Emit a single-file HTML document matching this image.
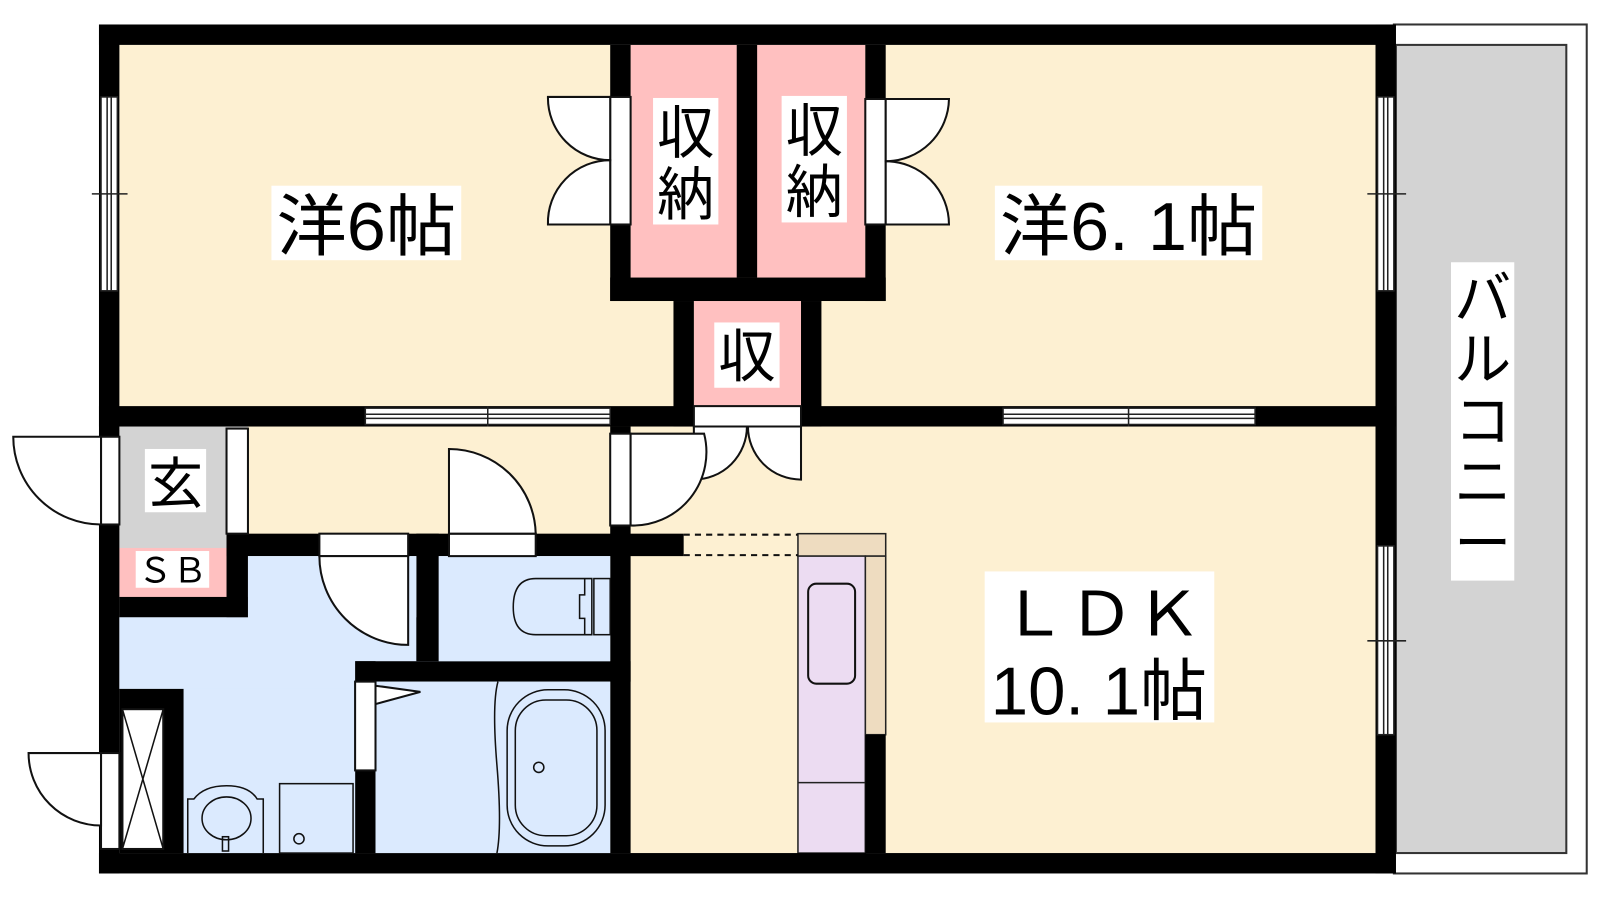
<!DOCTYPE html>
<html><head><meta charset="utf-8"><style>
html,body{margin:0;padding:0;background:#fff;}
svg{display:block;}
text{font-family:"Liberation Sans","Noto Sans CJK JP",sans-serif;}
</style></head><body>
<svg width="1600" height="900" viewBox="0 0 1600 900" xmlns="http://www.w3.org/2000/svg">
<g transform="scale(1.0204)">
<rect x="1366" y="24" width="189" height="832" fill="#fff" stroke="#333" stroke-width="2"/>
<rect x="1368" y="44" width="167" height="792" fill="#d3d3d3" stroke="#333" stroke-width="2"/>
<rect x="117" y="44" width="1231" height="792" fill="#fdf0d2"/>
<rect x="618" y="44" width="230" height="228" fill="#ffc0c0"/>
<rect x="680" y="295" width="105" height="103" fill="#ffc0c0"/>
<rect x="117" y="545" width="481" height="291" fill="#dbeafe"/>
<rect x="117" y="418" width="126" height="187" fill="#d3d3d3"/>
<rect x="117" y="537" width="105" height="48" fill="#ffc0c0"/>
<rect x="782" y="523" width="86" height="22" fill="#eedcc0" stroke="#222" stroke-width="1.5"/>
<rect x="848" y="545" width="20" height="175" fill="#eedcc0" stroke="#222" stroke-width="1.5"/>
<rect x="782" y="545" width="66" height="291" fill="#ecdcf2" stroke="#222" stroke-width="1.5"/>
<line x1="782" y1="767" x2="848" y2="767" stroke="#222" stroke-width="1.5"/>
<rect x="792" y="572" width="46" height="98" rx="8" fill="none" stroke="#111" stroke-width="2"/>
<line x1="670" y1="524" x2="782" y2="524" stroke="#111" stroke-width="2" stroke-dasharray="6,5"/>
<line x1="670" y1="544" x2="782" y2="544" stroke="#111" stroke-width="2" stroke-dasharray="6,5"/>
<g fill="#000">
<rect x="97" y="24" width="1271" height="20"/>
<rect x="97" y="836" width="1271" height="20"/>
<rect x="97" y="24" width="20" height="832"/>
<rect x="1348" y="24" width="20" height="832"/>
<rect x="598" y="44" width="20" height="251"/>
<rect x="722" y="44" width="20" height="228"/>
<rect x="848" y="44" width="20" height="251"/>
<rect x="598" y="272" width="270" height="23"/>
<rect x="660" y="295" width="20" height="123"/>
<rect x="785" y="295" width="20" height="123"/>
<rect x="97" y="398" width="583" height="20"/>
<rect x="785" y="398" width="583" height="20"/>
<rect x="222" y="523" width="21" height="82"/>
<rect x="117" y="585" width="126" height="20"/>
<rect x="222" y="523" width="448" height="22"/>
<rect x="408" y="523" width="22" height="125"/>
<rect x="348" y="648" width="270" height="20"/>
<rect x="348" y="648" width="20" height="188"/>
<rect x="598" y="418" width="20" height="418"/>
<rect x="117" y="675" width="63" height="161"/>
<rect x="848" y="720" width="20" height="116"/>
</g>
<rect x="243" y="545" width="165" height="60" fill="#dbeafe"/>
<rect x="117" y="605" width="231" height="70" fill="#dbeafe"/>
<rect x="180" y="675" width="168" height="161" fill="#dbeafe"/>
<rect x="430" y="545" width="168" height="103" fill="#dbeafe"/>
<rect x="368" y="668" width="230" height="168" fill="#dbeafe"/>
<g fill="#fff" stroke="#222" stroke-width="1.5">
<rect x="99" y="95" width="16" height="190"/>
<rect x="358" y="400" width="240" height="16"/>
<rect x="983" y="400" width="247" height="16"/>
<rect x="1350" y="95" width="16" height="190"/>
<rect x="1350" y="535" width="16" height="185"/>
</g>
<g stroke="#222" stroke-width="1.5">
<line x1="105" y1="95" x2="105" y2="285"/><line x1="109" y1="95" x2="109" y2="285"/><line x1="90" y1="190" x2="125" y2="190"/>
<line x1="1356" y1="95" x2="1356" y2="285"/><line x1="1360" y1="95" x2="1360" y2="285"/><line x1="1340" y1="190" x2="1378" y2="190"/>
<line x1="1356" y1="535" x2="1356" y2="720"/><line x1="1360" y1="535" x2="1360" y2="720"/><line x1="1340" y1="628" x2="1378" y2="628"/>
<line x1="358" y1="406" x2="598" y2="406"/><line x1="358" y1="410" x2="598" y2="410"/><line x1="478" y1="398" x2="478" y2="418"/>
<line x1="983" y1="406" x2="1230" y2="406"/><line x1="983" y1="410" x2="1230" y2="410"/><line x1="1106" y1="398" x2="1106" y2="418"/>
</g>
<g fill="#fff" stroke="#111" stroke-width="2">
<rect x="598" y="95" width="20" height="125"/>
<path d="M598,95 H537 A61,61 0 0 0 598,157 Z"/>
<path d="M598,220 H537 A61,61 0 0 1 598,157 Z"/>
<rect x="848" y="97" width="20" height="123"/>
<path d="M868,97 H930 A62,62 0 0 1 868,158 Z"/>
<path d="M868,220 H930 A62,62 0 0 0 868,158 Z"/>
<rect x="680" y="398" width="105" height="20"/>
<path d="M680,418 V470 A52,52 0 0 0 732,418 Z"/>
<path d="M785,418 V470 A52,52 0 0 1 733,418 Z"/>
<rect x="598" y="425" width="20" height="90"/>
<path d="M618,425 H690 A72,72 0 0 1 618,515 Z"/>
<rect x="99" y="428" width="18" height="86"/>
<path d="M99,428 H13 A86,86 0 0 0 99,514 Z"/>
<rect x="222" y="420" width="21" height="103"/>
<rect x="440" y="523" width="85" height="22"/>
<path d="M440,523 V440 A85,85 0 0 1 525,523 Z"/>
<rect x="313" y="523" width="87" height="22"/>
<path d="M400,545 V632 A87,87 0 0 1 313,545 Z"/>
<rect x="348" y="668" width="20" height="87"/>
<path d="M368,672 L412,678 L368,690 Z"/>
<rect x="99" y="738" width="18" height="94"/>
<path d="M99,738 H28 A71,71 0 0 0 99,809 Z"/>
<rect x="120" y="695" width="40" height="137"/>
</g>
<g stroke="#111" stroke-width="1.5" fill="none">
<line x1="120" y1="695" x2="160" y2="832"/><line x1="160" y1="695" x2="120" y2="832"/>
<path d="M580,567 H525 Q503,567 503,595 Q503,622 525,622 H580 Z"/>
<rect x="582" y="567" width="16" height="55"/>
<path d="M573,567 V583 H568 V606 H573 V622"/>
<path d="M488,668 Q482,690 487,750 Q492,810 487,836"/>
<rect x="497" y="676" width="96" height="153" rx="40"/>
<rect x="505" y="686" width="80" height="133" rx="30"/>
<circle cx="528" cy="752" r="5"/>
<path d="M184,836 V783 H190 Q200,770 222,770 Q244,770 252,783 H258 V836"/>
<ellipse cx="222" cy="802" rx="24" ry="21"/>
<rect x="218" y="820" width="6" height="14"/>
<rect x="274" y="768" width="72" height="68"/>
<circle cx="293" cy="822" r="5"/>
</g>
<g font-size="66" text-anchor="middle">
<rect x="266" y="182" width="186" height="73" fill="#fff"/>
<text x="359" y="245" textLength="176" lengthAdjust="spacingAndGlyphs">洋6帖</text>
<rect x="975" y="182" width="262" height="73" fill="#fff"/>
<text x="1106" y="245" textLength="252" lengthAdjust="spacingAndGlyphs">洋6. 1帖</text>
<rect x="965" y="560" width="225" height="148" fill="#fff"/>
<text x="1079" y="623" font-size="60" textLength="198" lengthAdjust="spacingAndGlyphs">ＬＤＫ</text>
<text x="1077" y="700" textLength="212" lengthAdjust="spacingAndGlyphs">10. 1帖</text>
</g>
<g font-size="56" text-anchor="middle">
<rect x="640" y="96" width="64" height="124" fill="#fff"/>
<text x="672" y="150">収</text><text x="672" y="210">納</text>
<rect x="766" y="94" width="64" height="124" fill="#fff"/>
<text x="798" y="148">収</text><text x="798" y="208">納</text>
<rect x="700" y="316" width="64" height="64" fill="#fff"/>
<text x="732" y="369">収</text>
<rect x="142" y="440" width="60" height="62" fill="#fff"/>
<text x="172" y="493" font-size="54">玄</text>
<rect x="1422" y="257" width="62" height="312" fill="#fff"/>
<text x="1453" y="312">バ</text><text x="1453" y="372">ル</text><text x="1453" y="432">コ</text><text x="1453" y="492">ニ</text><text x="1453" y="552">ー</text>
</g>
<rect x="133" y="540" width="72" height="36" fill="#fff"/>
<text x="169" y="571" font-size="34" text-anchor="middle">ＳＢ</text>
</g>
</svg>
</body></html>
